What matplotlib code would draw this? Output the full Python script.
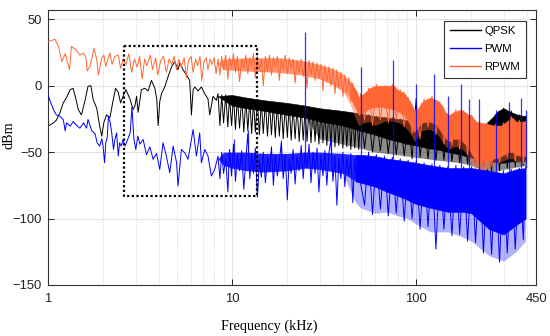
import numpy as np
import matplotlib
matplotlib.use("Agg")
import matplotlib.pyplot as plt
from matplotlib.ticker import FixedLocator, FixedFormatter, NullFormatter

plt.rcParams["font.family"] = ["Liberation Sans", "DejaVu Sans"]

# ---------------- data (kHz, dBm) ----------------
# low-frequency traces (1 - 8.4 kHz)
qpsk_f = [1.00, 1.07, 1.11, 1.16, 1.21, 1.26, 1.32, 1.37, 1.42, 1.46, 1.52, 1.59, 1.65, 1.71,
          1.76, 1.84, 1.91, 1.96, 2.01, 2.08, 2.17, 2.26, 2.33, 2.41, 2.48, 2.56, 2.65, 2.79,
          2.90, 2.97, 3.03, 3.09, 3.22, 3.36, 3.50, 3.65, 3.81, 3.90, 3.97, 4.05, 4.14, 4.31,
          4.50, 4.69, 4.89, 5.09, 5.20, 5.42, 5.66, 5.89, 6.02, 6.15, 6.28, 6.54, 6.82, 7.11,
          7.41, 7.57, 7.89, 8.23]
qpsk_db = [-30.5, -28, -26, -20.5, -13, -9, -3, -2, -10.5, -18, -22, -11, -0.5, 0,
           -10.5, -17, -30.5, -38, -28, -22, -24, -11, -2, -5, -13, -8, -3, -10,
           -18, -15, -8, -20, -3, -2, -4, 4, -2, -10, -30, -12, -6, -1,
           7, 14, 18, 12, 17, 12, 8, 4, -22, -3, -1, -4, -1, -6,
           -10, -22, -8, -11]

pwm_f = [1.00, 1.03, 1.07, 1.11, 1.16, 1.21, 1.24, 1.26, 1.32, 1.37, 1.42, 1.49, 1.56, 1.62,
         1.65, 1.73, 1.80, 1.85, 1.91, 1.96, 1.99, 2.03, 2.06, 2.10, 2.13, 2.18, 2.22, 2.27,
         2.31, 2.36, 2.41, 2.45, 2.50, 2.56, 2.62, 2.72, 2.80, 2.86, 2.93, 3.00, 3.08, 3.16,
         3.29, 3.43, 3.58, 3.73, 3.89, 4.05, 4.22, 4.40, 4.59, 4.79, 5.00, 5.09, 5.31, 5.54,
         5.77, 6.02, 6.15, 6.41, 6.68, 6.82, 7.11, 7.41, 7.73, 8.06]
pwm_db = [-7, -12, -18, -22, -23, -25.5, -34, -28, -30.5, -27, -29.5, -32, -28, -32,
          -25.5, -34, -36, -43, -45.5, -40, -45, -58, -43, -39, -23, -28, -35.5, -48,
          -40.5, -35.5, -53, -43, -45.5, -40.5, -45.5, -40, -35, -16, -40, -48, -38, -44,
          -40.5, -52, -46, -55.5, -51, -63, -43, -53, -65.5, -45.5, -58, -75.5, -48, -50.5,
          -55.5, -40.5, -33, -53, -35.5, -58, -48, -53, -68, -63]

rpwm_f = [1.00, 1.05, 1.09, 1.14, 1.19, 1.24, 1.31, 1.34, 1.42, 1.49, 1.56, 1.61, 1.63, 1.69,
          1.78, 1.84, 1.88, 1.96, 2.01, 2.06, 2.17, 2.23, 2.31, 2.41, 2.48, 2.56, 2.65, 2.75,
          2.85, 2.95, 3.05, 3.15, 3.25, 3.35, 3.45, 3.60, 3.70, 3.85, 3.95, 4.10, 4.25, 4.40,
          4.55, 4.70, 4.85, 5.00, 5.15, 5.30, 5.50, 5.65, 5.80, 6.00, 6.15, 6.35, 6.50, 6.70,
          6.85, 7.05, 7.25, 7.40, 7.60, 7.80, 8.00, 8.20]
rpwm_db = [33, 34, 35, 29.5, 18, 24, 12, 29.5, 27, 23, 24.5, 20.5, 11, 14.5,
           28, 19.5, 8, 21, 23, 14.5, 24.5, 16, 22, 23, 13, 20, 16, 24,
           10, 20, 14, 22, 5, 20, 15, 23, 12, 21, 8, 19, 22, 10,
           20, 16, 22, 12, 20, 14, 21, 6, 19, 22, 10, 20, 15, 22,
           4, 18, 21, 12, 20, 16, 21, 9]

# dense part (8.4 - 395 kHz): alternating peaks and dips
dense_f = [8.4, 8.6, 8.8, 9.0, 9.25, 9.5, 9.7, 9.95, 10.2, 10.45, 10.7, 11.0, 11.3, 11.6, 11.9,
           12.2, 12.5, 12.8, 13.1, 13.4, 13.75, 14.1, 14.45, 14.8, 15.2, 15.6, 16.0, 16.4, 16.8,
           17.2, 17.65, 18.1, 18.55, 19.0, 19.5, 20.0, 20.5, 21.0, 21.5, 22.05, 22.6, 23.2, 23.8,
           24.4, 25.0, 25.6, 26.25, 26.9, 27.6, 28.3, 29.0, 29.7, 30.5, 31.25, 32.0, 32.8, 33.65,
           34.5, 35.4, 36.3, 37.2, 38.1, 39.1, 40.1, 41.1, 42.1, 43.2, 44.3, 45.4, 46.5, 47.7,
           48.9, 50.1, 52.6, 55.3, 58.1, 61, 64.1, 67.4, 70.8, 74.4, 78.2, 82.2, 86.4, 90.8,
           95.4, 100.3, 105.4, 110.8, 116.4, 122.3, 128.5, 135, 142, 149, 157, 165, 173, 182,
           191, 201, 211, 222, 233, 245, 258, 271, 285, 299, 314, 330, 347, 365, 384, 395]
qpsk_dense = [-6, -30, -7, -28, -7, -31, -8, -30, -8, -33, -9, -32, -9, -35, -10,
              -34, -10, -36, -11, -35, -11, -37, -12, -36, -12, -38, -13, -37, -13,
              -39, -14, -38, -14, -40, -14, -39, -15, -41, -15, -40, -16, -42, -16,
              -41, -17, -42, -17, -43, -17, -42, -18, -44, -18, -43, -19, -45, -19,
              -44, -19, -46, -20, -45, -20, -47, -20, -46, -21, -48, -21, -47, -21,
              -48, -22, -47, -22, -50, -23, -49, -24, -51, -24, -52, -25, -53, -26,
              -55, -10, -54, -27, -55, -28, -56, -28, -56, -29, -57, -29, -58, -30,
              -59, -31, -60, -31, -63, -28, -65, -22, -64, -17, -62, -19, -61, -22, -60, -23]
pwm_dense = [-53, -70, -50, -66, -55, -80, -48, -68, -44, -72, -52, -64, -49, -78, -55,
             -36, -70, -51, -66, -47, -84, -56, -69, -50, -73, -54, -64, -46, -75,
             -52, -68, -57, -43, -70, -52, -86, -55, -66, -48, -74, -53, -64, -45,
             -70, -50, -62, -44, -73, -50, -66, -47, -80, -52, -68, -49, -75, -51,
             -40, -72, -53, -90, -55, -70, -50, -76, -54, -68, -51, -88, -55, -72,
             -53, -74, -90, -50, -97, -52, -93, -53, -98, -54, -96, -55, -102, -56,
             -100, -57, -108, -58, -106, -59, -123, -60, -108, -61, -113, -60, -112, -61,
             -117, -61, -118, -62, -126, -63, -127, -65, -133, -64, -126, -63, -123, -62,
             -116, -61]
rpwm_dense = [20, 8, 22, 12, 23, 5, 21, 14, 24, 10, 22, 3, 20, 13, 23,
              9, 21, 15, 24, 6, 22, 12, 20, 0, 22, 11, 23, 8, 21,
              14, 22, 4, 20, 12, 23, 9, 21, 13, 20, 2, 19, 10, 20,
              7, 18, -2, 19, 8, 18, 4, 17, 6, 16, -4, 15, 3, 14,
              0, 13, -6, 12, -2, 10, -8, 8, -5, 6, -12, 2, -15, -4,
              -18, -6, -26, -2, -30, 1, -26, 0, -28, 1, -25, -3, -31, -9,
              -36, -18, -40, -10, -31, -8, -37, -12, -44, -21, -45, -18, -48, -19,
              -52, -22, -63, -27, -66, -28, -60, -29, -58, -28, -54, -23, -57, -26, -59, -27]

# solid body of each dense spectrum: upper edge, solid lower edge, faint lower edge
qpsk_band_f = [8.4, 10, 12, 15, 20, 25, 30, 40, 50, 60, 70, 80, 90, 100, 115, 130, 150, 175,
               200, 230, 260, 280, 300, 330, 360, 395]
qpsk_top = [-8, -7, -9, -11, -13, -15, -17, -19, -21, -23, -24, -25, -26, -27, -27, -28, -29,
            -30, -31, -31, -24, -19, -17, -20, -22, -23]
qpsk_core = [-8, -15, -17, -19, -22, -24, -27, -30, -34, -37, -40, -42, -44, -45, -47, -48,
             -50, -52, -54, -56, -57, -58, -58, -57, -57, -57]
qpsk_floor = [-8, -15, -17, -19, -22, -24, -40, -44, -47, -50, -51, -52, -53, -54, -55, -56,
              -57, -58, -60, -63, -65, -64, -63, -62, -61, -60]

pwm_band_f = [8.4, 9, 10, 12, 15, 20, 25, 30, 40, 47, 50, 60, 70, 80, 90, 100, 120, 150, 180,
              200, 250, 300, 350, 395]
pwm_top = [-55, -50, -50, -50, -51, -51, -50, -50, -51, -52, -52, -53, -55, -56, -57, -58, -60,
           -62, -62, -62, -64, -66, -63, -62]
pwm_core = [-55, -60, -62, -64, -65, -64, -62, -63, -66, -72, -73, -76, -80, -83, -86, -89, -92,
            -95, -95, -96, -108, -112, -105, -100]
pwm_floor = [-55, -60, -62, -64, -65, -64, -62, -63, -66, -88, -92, -96, -95, -98, -100, -104,
             -110, -110, -114, -117, -128, -132, -125, -117]
pwm_spike_f = [10.2, 12.2, 18.55, 25, 34.5, 50, 75, 100, 125, 150, 175, 194, 220, 272, 320, 371, 395]
pwm_spike_db = [-40, -33, -41, 40, -40, 14, 19, 1, 9, -8, 1, -10, -10, -18, -12, -9, -18]

rpwm_band_f = [8.4, 9, 12, 18, 24, 30, 35, 40, 44, 47, 49, 52, 56, 60, 65, 70, 76, 81, 86, 92,
               95, 98, 101, 107, 115, 120, 130, 139, 146, 152, 160, 168, 176, 185, 194, 202,
               212, 228, 249, 265, 292, 318, 335, 350, 374, 395]
rpwm_top = [17, 20, 21, 21, 19, 16, 13, 9, 3, -3, -9, -6, -2, 0, 0, 0, 0, -4, -5, -11,
            -14, -19, -19, -13, -10, -9, -11, -15, -21, -22, -20, -19, -18, -20, -22, -23,
            -27, -28, -29, -30, -30, -26, -24, -27, -27, -27]
rpwm_core = [17, 12, 11, 10, 8, 5, 1, -4, -9, -17, -22, -20, -17, -16, -16, -17, -18, -20, -22,
             -28, -32, -35, -33, -28, -27, -27, -30, -36, -40, -42, -40, -40, -41, -44, -48,
             -52, -56, -58, -57, -55, -53, -50, -50, -52, -53, -53]
rpwm_floor = [17, 12, 11, 10, 8, 5, 1, -4, -14, -25, -30, -28, -27, -30, -28, -26, -27, -28, -30,
              -35, -38, -42, -40, -34, -33, -33, -36, -42, -46, -48, -46, -46, -47, -50, -55,
              -58, -62, -66, -62, -60, -57, -55, -55, -57, -57, -58]

# zoomed region marked on the chart
box_f = [2.59, 13.7]
box_db = [-83, 30]

black = "#000000"
blue = "#0000FF"
orange = "#FF6633"


def band(ax, f, top, core, floor, color, z, pale=0.45, split=None, early=0.7):
    f = np.asarray(f)
    if split is None:
        ax.fill_between(f, core, top, color=color, lw=0.4, zorder=z)
    else:
        ax.fill_between(f, core, top, where=f <= split, color=color, alpha=early, lw=0,
                        zorder=z)
        ax.fill_between(f, core, top, where=f >= split, color=color, lw=0.4, zorder=z)
    ax.fill_between(f, floor, core, color=color, alpha=pale, lw=0, zorder=z)


fig = plt.figure(figsize=(5.5, 3.36), dpi=100)
ax = fig.add_axes([0.0873, 0.1518, 0.8873, 0.8199])
ax.set_xscale("log")

# QPSK
l1, = ax.plot(qpsk_f + dense_f, qpsk_db + qpsk_dense, color=black, lw=0.7, zorder=2)
band(ax, qpsk_band_f, qpsk_top, qpsk_core, qpsk_floor, black, 2, pale=0.45)

# RPWM
l3, = ax.plot(rpwm_f + dense_f, rpwm_db + rpwm_dense, color=orange, lw=0.7, zorder=3)
band(ax, rpwm_band_f, rpwm_top, rpwm_core, rpwm_floor, orange, 3, pale=0.45, split=44)

# PWM
l2, = ax.plot(pwm_f + dense_f, pwm_db + pwm_dense, color=blue, lw=0.7, zorder=4)
band(ax, pwm_band_f, pwm_top, pwm_core, pwm_floor, blue, 4, pale=0.3, split=47, early=0.85)
ax.vlines(pwm_spike_f, np.interp(pwm_spike_f, pwm_band_f, pwm_top), pwm_spike_db,
          color=blue, lw=0.9, alpha=0.8, zorder=4)

# dotted box
ax.plot([box_f[0], box_f[1], box_f[1], box_f[0], box_f[0]],
        [box_db[1], box_db[1], box_db[0], box_db[0], box_db[1]],
        color=black, ls=(0, (1, 1.1)), lw=1.6, zorder=6)

ax.set_xlim(1, 450)
ax.set_ylim(-150, 57.3)
ax.xaxis.set_major_locator(FixedLocator([1, 10, 100, 450]))
ax.xaxis.set_major_formatter(FixedFormatter(["1", "10", "100", "450"]))
minors = [2, 3, 4, 5, 6, 7, 8, 9, 20, 30, 40, 50, 60, 70, 80, 90, 200, 300, 400]
ax.xaxis.set_minor_locator(FixedLocator(minors))
ax.xaxis.set_minor_formatter(NullFormatter())
ax.set_yticks([-150, -100, -50, 0, 50])

ax.grid(which="major", color="#dddddd", lw=0.6, ls="-", zorder=0)
ax.grid(which="minor", axis="x", color="#c4c4c4", lw=0.6, ls=(0, (1, 2)), zorder=0)
ax.set_axisbelow(True)

ax.tick_params(which="major", direction="in", length=4, width=0.7, top=True, right=True,
               labelsize=9.4, colors="#222222")
ax.tick_params(axis="x", which="major", pad=5.5)
ax.tick_params(axis="y", which="major", pad=4.3)
ax.tick_params(which="minor", length=0, top=True, right=True)
for s in ax.spines.values():
    s.set_color("#333333")
    s.set_linewidth(0.8)

ax.set_xlabel("Frequency (kHz)", family="Liberation Serif", fontsize=10.2)
ax.xaxis.set_label_coords(0.453, -0.124)
ax.set_ylabel("dBm", family="Liberation Serif", fontsize=10.2)
ax.yaxis.set_label_coords(-0.066, 0.545)

leg = ax.legend([l1, l2, l3], ["QPSK", "PWM", "RPWM"], loc="upper right",
                bbox_to_anchor=(0.9795, 0.9593), fontsize=8.2, frameon=True, fancybox=False,
                edgecolor="#333333", framealpha=1, borderpad=0.5, handlelength=2.7,
                handletextpad=0.35, labelspacing=0.68, borderaxespad=0)
leg.get_frame().set_linewidth(0.8)
for h in leg.get_lines():
    h.set_linewidth(1.0)

fig.savefig("out.png", dpi=100)
